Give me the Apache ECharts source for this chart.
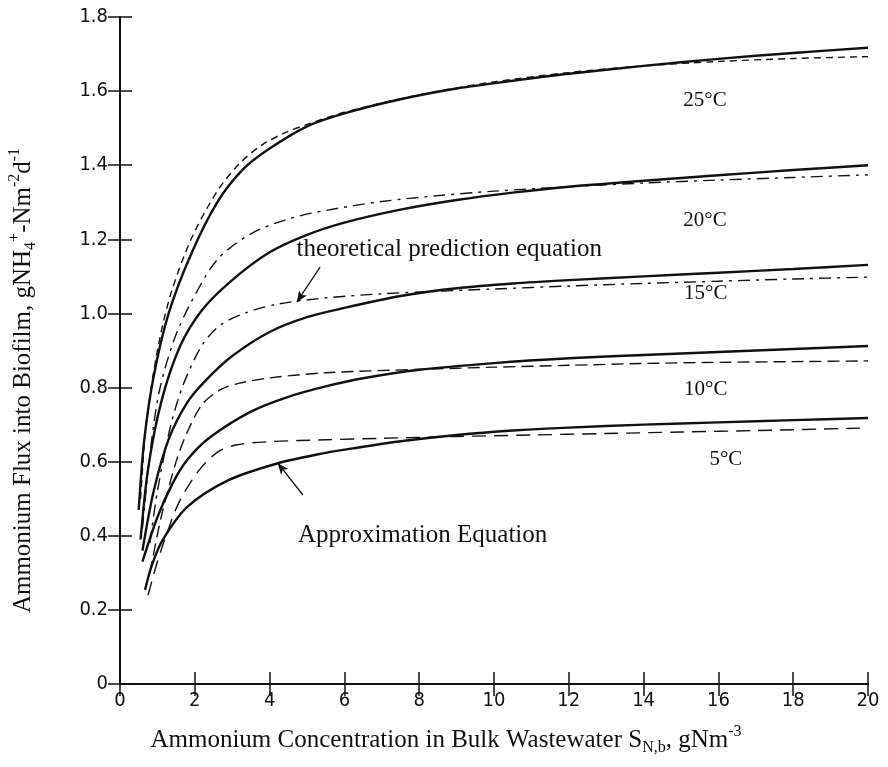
<!DOCTYPE html>
<html>
<head>
<meta charset="utf-8">
<script src="https://cdn.jsdelivr.net/npm/echarts@6/dist/echarts.min.js"></script>
<style>
  html, body { margin: 0; padding: 0; background: #fff; }
  #chart { width: 888px; height: 767px; }
</style>
</head>
<body>
<div id="chart"></div>
<script>
// Approximation equation (solid) and theoretical prediction (dashed), [S, flux]
const approx25 = [[0.5,0.47],[0.65,0.66],[0.9,0.83],[1.3,1.0],[1.9,1.16],[2.6,1.3],[3.3,1.39],[4,1.445],[5,1.505],[6,1.54],[7.5,1.578],[9,1.607],[10.5,1.628],[12,1.647],[14,1.668],[16,1.687],[18,1.703],[20,1.717]];
const theory25 = [[0.55,0.5],[0.7,0.7],[1,0.9],[1.35,1.05],[1.9,1.2],[2.6,1.33],[3.2,1.405],[3.8,1.455],[4.4,1.487],[5,1.51],[6,1.543],[8,1.59],[10,1.625],[12,1.65],[14,1.668],[16,1.68],[18,1.688],[20,1.693]];
const approx20 = [[0.55,0.39],[0.75,0.58],[1.1,0.76],[1.6,0.91],[2.2,1.01],[3,1.09],[4,1.165],[5,1.212],[6,1.245],[7.5,1.28],[9,1.306],[10.5,1.326],[12,1.342],[14,1.358],[16,1.373],[18,1.387],[20,1.4]];
const theory20 = [[0.6,0.42],[0.8,0.62],[1.05,0.79],[1.45,0.93],[1.9,1.03],[2.6,1.145],[3.5,1.215],[4.5,1.255],[5.5,1.278],[7,1.302],[8.5,1.318],[10,1.33],[12,1.342],[14,1.352],[16,1.36],[18,1.367],[20,1.374]];
const approx15 = [[0.6,0.36],[0.9,0.52],[1.3,0.66],[1.8,0.76],[2.3,0.82],[3,0.885],[4,0.95],[5,0.99],[6,1.015],[7.5,1.047],[9,1.068],[10.5,1.081],[12,1.09],[14,1.1],[16,1.11],[18,1.12],[20,1.131]];
const theory15 = [[0.8,0.38],[1,0.52],[1.35,0.695],[1.7,0.81],[2.2,0.915],[2.7,0.97],[3.4,1.003],[4.2,1.025],[5.5,1.042],[7,1.053],[8.5,1.06],[10,1.066],[12,1.074],[14,1.081],[16,1.087],[18,1.093],[20,1.098]];
const approx10 = [[0.6,0.33],[1,0.45],[1.4,0.54],[1.8,0.605],[2.4,0.665],[3.5,0.735],[4.5,0.775],[5.5,0.803],[6.5,0.825],[8,0.848],[10,0.866],[12,0.879],[14,0.888],[16,0.896],[18,0.904],[20,0.912]];
const theory10 = [[0.8,0.3],[1.1,0.45],[1.5,0.6],[1.8,0.68],[2.2,0.755],[2.7,0.795],[3.2,0.812],[4,0.826],[5.5,0.84],[8,0.849],[10,0.855],[12,0.86],[14,0.865],[16,0.868],[18,0.87],[20,0.872]];
const approx5 = [[0.67,0.254],[0.85,0.32],[1.15,0.39],[1.8,0.478],[2.9,0.55],[4.2,0.595],[5.3,0.62],[6.3,0.637],[7.5,0.655],[9,0.672],[10.5,0.684],[12,0.692],[14,0.7],[16,0.706],[18,0.712],[20,0.718]];
const theory5 = [[0.75,0.24],[1,0.33],[1.3,0.42],[1.6,0.495],[2.1,0.575],[2.6,0.625],[3.1,0.645],[4,0.654],[5.5,0.659],[7,0.663],[9,0.668],[11,0.672],[13,0.676],[15,0.68],[17,0.684],[20,0.691]];

// temperature labels and callouts, in data units
const tempLabels = [
  { name: '25°C', value: [15.64, 1.576] },
  { name: '20°C', value: [15.64, 1.252] },
  { name: '15°C', value: [15.66, 1.055] },
  { name: '10°C', value: [15.66, 0.794] },
  { name: '5°C', value: [16.2, 0.605] }
];
const theoryArrow = [[5.35, 1.125], [4.73, 1.031]];
const approxArrow = [[4.89, 0.51], [4.22, 0.596]];
const theoryText = [4.72, 1.174];
const approxText = [4.76, 0.40];

const serif = '"Liberation Serif", "DejaVu Serif", serif';
const sans = '"DejaVu Sans Condensed", "DejaVu Sans", sans-serif';
const ink = '#111';

function solid(name, data) {
  return {
    name, type: 'line', data,
    smooth: 0.3, showSymbol: false,
    lineStyle: { color: ink, width: 2.4 }
  };
}

function dashed(name, data, pattern) {
  return {
    name, type: 'line', data,
    smooth: 0.3, showSymbol: false,
    lineStyle: { color: ink, width: 1.4, type: pattern }
  };
}

function callout(pts) {
  return {
    silent: true,
    symbol: ['none', 'arrow'],
    symbolSize: [7, 11],
    lineStyle: { color: ink, width: 1.3, type: 'solid' },
    label: { show: false },
    data: [[{ coord: pts[0] }, { coord: pts[1] }]]
  };
}

const series = [
  solid('approx25', approx25),
  dashed('theory25', theory25, [7, 5]),
  solid('approx20', approx20),
  dashed('theory20', theory20, [12, 6, 3, 6]),
  solid('approx15', approx15),
  dashed('theory15', theory15, [12, 6, 3, 6]),
  solid('approx10', approx10),
  dashed('theory10', theory10, [12, 6]),
  solid('approx5', approx5),
  dashed('theory5', theory5, [14, 8]),
  {
    name: 'labels', type: 'scatter', data: tempLabels, symbolSize: 0, silent: true,
    itemStyle: { opacity: 1 },
    label: {
      show: true, position: 'inside', formatter: '{b}', opacity: 1,
      color: ink, fontFamily: serif, fontSize: 21, textBorderWidth: 0
    }
  },
  {
    name: 'notes', type: 'scatter', symbolSize: 0, silent: true,
    itemStyle: { opacity: 1 },
    data: [
      { name: 'theoretical prediction equation', value: theoryText },
      { name: 'Approximation Equation', value: approxText }
    ],
    label: {
      show: true, position: 'right', distance: 0, formatter: '{b}', opacity: 1,
      color: ink, fontFamily: serif, fontSize: 25
    },
    markLine: callout(theoryArrow)
  },
  {
    name: 'notes2', type: 'scatter', symbolSize: 0, silent: true, data: [],
    markLine: callout(approxArrow)
  }
];

const frameLine = { show: true, lineStyle: { color: ink, width: 2 } };
const innerTick = { show: true, inside: true, length: 12, lineStyle: { color: ink, width: 1.5 } };
const richName = {
  m: { fontFamily: serif, fontSize: 25, color: ink, lineHeight: 32 },
  sub: { fontFamily: serif, fontSize: 16, color: ink, verticalAlign: 'bottom', lineHeight: 22 },
  sup: { fontFamily: serif, fontSize: 16, color: ink, verticalAlign: 'top', lineHeight: 22 }
};

const chart = echarts.init(document.getElementById('chart'), null, { renderer: 'canvas' });
chart.setOption({
  backgroundColor: '#fff',
  animation: false,
  grid: { left: 120, right: 20, top: 17, bottom: 83, containLabel: false, outerBoundsMode: 'none' },
  xAxis: [
    {
      type: 'value', min: 0, max: 20, interval: 2,
      axisLine: frameLine, axisTick: innerTick, splitLine: { show: false },
      axisLabel: { color: ink, fontFamily: sans, fontSize: 20, margin: 7 },
      name: '{m|Ammonium Concentration in Bulk Wastewater S}{sub|N,b}{m|, gNm}{sup|-3}',
      nameLocation: 'middle', nameGap: 40,
      nameTextStyle: { color: ink, fontFamily: serif, fontSize: 25, rich: richName, padding: [0, 96, 0, 0] }
    },
    {
      type: 'value', position: 'top', min: 0, max: 20, interval: 2,
      axisLine: frameLine, axisTick: innerTick, axisLabel: { show: false }, splitLine: { show: false }
    }
  ],
  yAxis: [
    {
      type: 'value', min: 0, max: 1.8, interval: 0.2,
      axisLine: frameLine, axisTick: innerTick, splitLine: { show: false },
      axisLabel: {
        color: ink, fontFamily: sans, fontSize: 20, margin: 12,
        formatter: v => (v === 0 ? '0' : v.toFixed(1))
      },
      name: '{m|Ammonium Flux into Biofilm, gNH}{sub|4}{sup|+}{m|-Nm}{sup|-2}{m|d}{sup|-1}',
      nameLocation: 'middle', nameGap: 81, nameRotate: 90,
      nameTextStyle: { color: ink, fontFamily: serif, fontSize: 25, rich: richName, padding: [0, 60, 0, 0] }
    },
    {
      type: 'value', position: 'right', min: 0, max: 1.8, interval: 0.2,
      axisLine: frameLine, axisTick: innerTick, axisLabel: { show: false }, splitLine: { show: false }
    }
  ],
  series
});
</script>
</body>
</html>
